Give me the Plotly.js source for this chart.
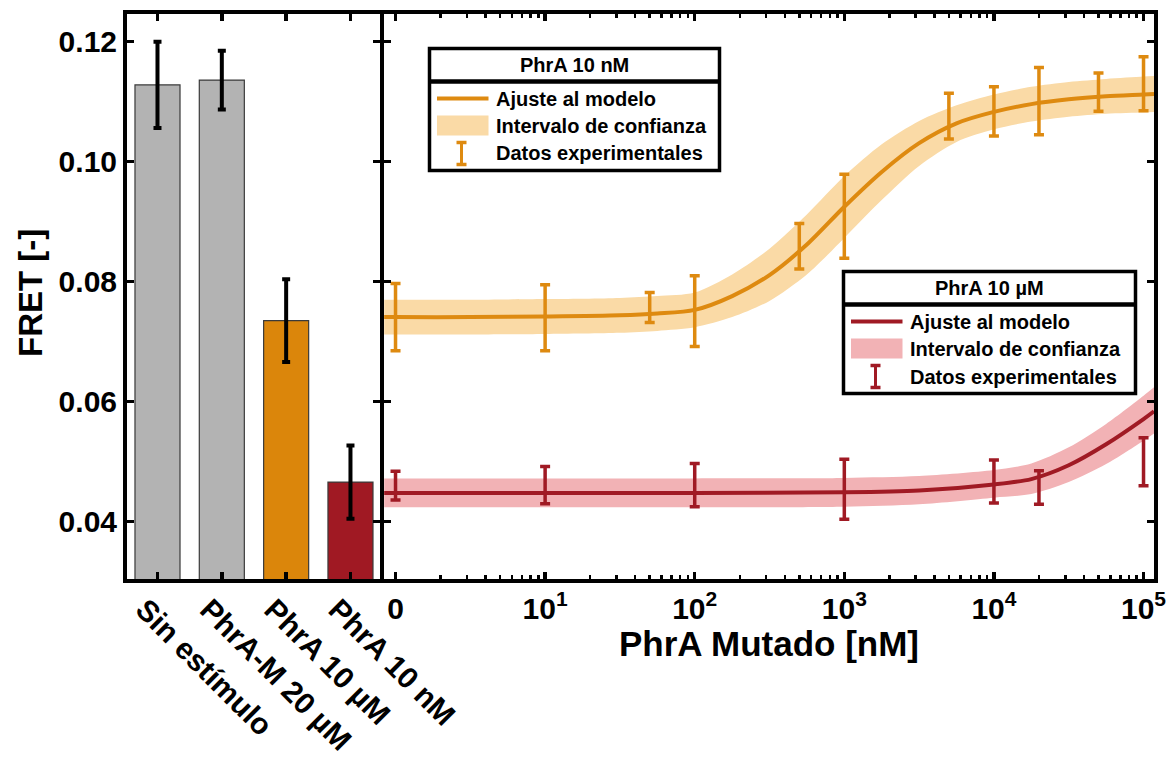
<!DOCTYPE html>
<html>
<head>
<meta charset="utf-8">
<script src="https://cdn.plot.ly/plotly-3.0.1.min.js"></script>
<style>
  html, body { margin: 0; padding: 0; background: #ffffff; }
  #chart { width: 1175px; height: 761px; }
</style>
</head>
<body>
<div id="chart"></div>
<script>
// ---- Bar panel: FRET per condition ----
const categories = ['Sin estímulo', 'PhrA-M 20 µM', 'PhrA 10 µM', 'PhrA 10 nM'];
const barValues  = [0.1128, 0.1136, 0.0735, 0.0466];
const barErrors  = [0.0072, 0.0049, 0.0069, 0.0061];
const barColors  = ['#b3b3b3', '#b3b3b3', '#db860b', '#a01923'];

// ---- Dose-response panel: PhrA 10 nM ----
const orangeX   = [1, 10, 50, 100, 500, 1000, 5000, 10000, 20000, 50000, 100000];
const orangeY   = [0.0741, 0.0740, 0.0757, 0.0751, 0.0859, 0.0909, 0.1076, 0.1084, 0.1101, 0.1116, 0.1130];
const orangeErr = [0.0056, 0.0055, 0.0025, 0.0059, 0.0038, 0.0070, 0.0038, 0.0041, 0.0056, 0.0032, 0.0045];

const orangeFitX  = [0.84, 1, 3.16, 10, 31.6, 56.2, 100, 178, 316, 562, 1000, 1778, 3162, 5623, 10000, 17783, 31623, 56234, 100000, 117500];
const orangeFitY  = [0.0741, 0.0741, 0.0741, 0.0742, 0.0744, 0.0747, 0.0753, 0.0776, 0.0811, 0.0862, 0.0925, 0.0983, 0.1031, 0.1064, 0.1083, 0.1096, 0.1104, 0.1109, 0.1112, 0.1113];
const orangeBandHi = [0.0770, 0.0770, 0.0770, 0.0771, 0.0773, 0.0776, 0.0782, 0.0812, 0.0855, 0.0912, 0.0976, 0.1029, 0.1068, 0.1094, 0.1112, 0.1125, 0.1133, 0.1138, 0.1142, 0.1143];
const orangeBandLo = [0.0712, 0.0712, 0.0712, 0.0713, 0.0715, 0.0718, 0.0724, 0.0741, 0.0768, 0.0812, 0.0873, 0.0936, 0.0993, 0.1033, 0.1054, 0.1067, 0.1075, 0.1080, 0.1082, 0.1083];

// ---- Dose-response panel: PhrA 10 µM ----
const redX   = [1, 10, 100, 1000, 10000, 20000, 100000];
const redY   = [0.0460, 0.0461, 0.0461, 0.0454, 0.0467, 0.0457, 0.0500];
const redErr = [0.0024, 0.0031, 0.0036, 0.0050, 0.0036, 0.0028, 0.0040];

const redFitX  = [0.84, 1, 10, 100, 1000, 3162, 10000, 17783, 31623, 56234, 100000, 117500];
const redFitY  = [0.0448, 0.0448, 0.0448, 0.0448, 0.0449, 0.0452, 0.0462, 0.0471, 0.0494, 0.0529, 0.0571, 0.0584];
const redBandHi = [0.0472, 0.0472, 0.0472, 0.0472, 0.0473, 0.0476, 0.0486, 0.0497, 0.0524, 0.0563, 0.0610, 0.0624];
const redBandLo = [0.0424, 0.0424, 0.0424, 0.0424, 0.0425, 0.0429, 0.0440, 0.0446, 0.0466, 0.0496, 0.0535, 0.0547];

// ---- Axis ticks ----
const yTicks = [0.04, 0.06, 0.08, 0.10, 0.12];
const yTickText = ['0.04', '0.06', '0.08', '0.10', '0.12'];
const logTicks = [1, 10, 100, 1000, 10000, 100000];
const logTickText = ['0', '10<sup>1</sup>', '10<sup>2</sup>', '10<sup>3</sup>', '10<sup>4</sup>', '10<sup>5</sup>'];
const logMinor = [];
for (let d = 1; d <= 10000; d *= 10) {
  for (let k = 2; k <= 9; k++) logMinor.push(k * d);
}

// ---- Colours ----
const ORANGE = '#de8a10';
const ORANGE_BAND = 'rgb(250,218,166)';
const RED = '#a01a24';
const RED_BAND = 'rgb(242,178,181)';

// ---- Page geometry (pixels) ----
const W = 1175, H = 761;
const PL = 127, PR = 1154, PT = 14, PB = 579;
const PW = PR - PL, PH = PB - PT;
const px = v => (v - PL) / PW;
const py = v => (PB - v) / PH;
const FONT = 'Liberation Sans, Arial, sans-serif';

const traces = [
  {
    type: 'bar', x: categories, y: barValues, xaxis: 'x', yaxis: 'y',
    width: 0.7,
    marker: { color: barColors, line: { color: '#3a3a3a', width: 1.2 } },
    error_y: { type: 'data', array: barErrors, visible: true, color: '#000000', thickness: 4, width: 4 },
    hoverinfo: 'skip', showlegend: false
  },
  { type: 'scatter', mode: 'lines', x: orangeFitX, y: orangeBandLo, xaxis: 'x2', yaxis: 'y2',
    line: { width: 0, shape: 'spline', smoothing: 0.8 }, hoverinfo: 'skip', showlegend: false },
  { type: 'scatter', mode: 'lines', x: orangeFitX, y: orangeBandHi, xaxis: 'x2', yaxis: 'y2',
    fill: 'tonexty', fillcolor: ORANGE_BAND,
    line: { width: 0, shape: 'spline', smoothing: 0.8 }, hoverinfo: 'skip', showlegend: false },
  { type: 'scatter', mode: 'lines', x: redFitX, y: redBandLo, xaxis: 'x2', yaxis: 'y2',
    line: { width: 0, shape: 'spline', smoothing: 0.8 }, hoverinfo: 'skip', showlegend: false },
  { type: 'scatter', mode: 'lines', x: redFitX, y: redBandHi, xaxis: 'x2', yaxis: 'y2',
    fill: 'tonexty', fillcolor: RED_BAND,
    line: { width: 0, shape: 'spline', smoothing: 0.8 }, hoverinfo: 'skip', showlegend: false },
  { type: 'scatter', mode: 'lines', x: orangeFitX, y: orangeFitY, xaxis: 'x2', yaxis: 'y2',
    line: { color: ORANGE, width: 4, shape: 'spline', smoothing: 0.8 }, hoverinfo: 'skip', showlegend: false },
  { type: 'scatter', mode: 'lines', x: redFitX, y: redFitY, xaxis: 'x2', yaxis: 'y2',
    line: { color: RED, width: 4, shape: 'spline', smoothing: 0.8 }, hoverinfo: 'skip', showlegend: false },
  { type: 'scatter', mode: 'markers', x: orangeX, y: orangeY, xaxis: 'x2', yaxis: 'y2',
    marker: { size: 2, color: 'rgba(0,0,0,0)' },
    error_y: { type: 'data', array: orangeErr, visible: true, color: ORANGE, thickness: 3.5, width: 5 },
    hoverinfo: 'skip', showlegend: false },
  { type: 'scatter', mode: 'markers', x: redX, y: redY, xaxis: 'x2', yaxis: 'y2',
    marker: { size: 2, color: 'rgba(0,0,0,0)' },
    error_y: { type: 'data', array: redErr, visible: true, color: RED, thickness: 3.5, width: 5 },
    hoverinfo: 'skip', showlegend: false }
];

const axisLine = { showline: true, linecolor: '#000000', linewidth: 4, mirror: 'ticks',
  ticks: 'inside', ticklen: 7, tickwidth: 3.5, tickcolor: '#000000', showgrid: false, zeroline: false };
const tickFont = { family: FONT, size: 30, color: '#000000', weight: 'bold' };
const catFont = { family: FONT, size: 30, color: '#000000', weight: 'bold' };
const yRange = [0.03045, 0.12462];

const layout = {
  width: W, height: H,
  margin: { l: PL, r: W - PR, t: PT, b: H - PB, pad: 0 },
  paper_bgcolor: '#ffffff', plot_bgcolor: '#ffffff',
  showlegend: false,
  xaxis: Object.assign({}, axisLine, {
    domain: [0, px(380)], type: 'category', range: [-0.474, 3.459],
    tickangle: 45, tickfont: catFont, ticklabelshift: -13, ticklabelstandoff: -3
  }),
  yaxis: Object.assign({}, axisLine, {
    domain: [0, 1], range: yRange, tickmode: 'array', tickvals: yTicks, ticktext: yTickText,
    tickfont: tickFont
  }),
  xaxis2: Object.assign({}, axisLine, {
    domain: [px(384), 1], anchor: 'y2', type: 'log', range: [-0.077, 5.070],
    tickmode: 'array', tickvals: logTicks, ticktext: logTickText, tickfont: tickFont,
    minor: { tickmode: 'array', tickvals: logMinor, ticks: 'inside', ticklen: 4, tickwidth: 2.5, tickcolor: '#000000', showgrid: false }
  }),
  yaxis2: Object.assign({}, axisLine, {
    domain: [0, 1], anchor: 'x2', range: yRange, tickmode: 'array', tickvals: yTicks,
    showticklabels: false
  }),
  shapes: [],
  annotations: [
    { text: 'PhrA Mutado [nM]', xref: 'paper', yref: 'paper', x: px(769), y: py(643),
      xanchor: 'center', yanchor: 'middle', showarrow: false,
      font: { family: FONT, size: 35, color: '#000000', weight: 'bold' } },
    { text: 'FRET [-]', xref: 'paper', yref: 'paper', x: px(30), y: py(293), textangle: -90,
      xanchor: 'center', yanchor: 'middle', showarrow: false,
      font: { family: FONT, size: 33, color: '#000000', weight: 'bold' } }
  ]
};

// Legend panels drawn as boxed keys with a title row
function addKey(box, title, lineColor, bandColor) {
  const [x0, y0, x1, y1, sep] = box;
  const S = layout.shapes, A = layout.annotations;
  S.push({ type: 'rect', xref: 'paper', yref: 'paper', x0: px(x0), x1: px(x1), y0: py(y0), y1: py(y1),
    fillcolor: '#ffffff', line: { color: '#000000', width: 3.5 } });
  S.push({ type: 'line', xref: 'paper', yref: 'paper', x0: px(x0), x1: px(x1), y0: py(sep), y1: py(sep),
    line: { color: '#000000', width: 4.5 } });
  const tf = { family: FONT, size: 20, color: '#000000', weight: 'bold' };
  A.push({ text: title, xref: 'paper', yref: 'paper', x: px((x0 + x1) / 2), y: py((y0 + sep) / 2),
    xanchor: 'center', yanchor: 'middle', showarrow: false, font: tf });
  const iconL = x0 + 7.5, iconR = x0 + 59, tx = x0 + 64;
  const r1 = sep + 17, r2 = sep + 44, r3 = sep + 72;
  S.push({ type: 'line', xref: 'paper', yref: 'paper', x0: px(iconL), x1: px(iconR), y0: py(r1), y1: py(r1),
    line: { color: lineColor, width: 4 } });
  S.push({ type: 'rect', xref: 'paper', yref: 'paper', x0: px(iconL), x1: px(iconR), y0: py(r2 - 10), y1: py(r2 + 10),
    fillcolor: bandColor, line: { width: 0 } });
  const ex = x0 + 32;
  S.push({ type: 'line', xref: 'paper', yref: 'paper', x0: px(ex), x1: px(ex), y0: py(r3 - 11), y1: py(r3 + 11),
    line: { color: lineColor, width: 3 } });
  S.push({ type: 'line', xref: 'paper', yref: 'paper', x0: px(ex - 5), x1: px(ex + 5), y0: py(r3 - 11), y1: py(r3 - 11),
    line: { color: lineColor, width: 3.5 } });
  S.push({ type: 'line', xref: 'paper', yref: 'paper', x0: px(ex - 5), x1: px(ex + 5), y0: py(r3 + 11), y1: py(r3 + 11),
    line: { color: lineColor, width: 3.5 } });
  const labels = ['Ajuste al modelo', 'Intervalo de confianza', 'Datos experimentales'];
  [r1, r2, r3].forEach((r, i) => {
    A.push({ text: labels[i], xref: 'paper', yref: 'paper', x: px(tx), y: py(r),
      xanchor: 'left', yanchor: 'middle', showarrow: false, font: tf });
  });
}
addKey([429.5, 48.5, 719.5, 170.5, 81.5], 'PhrA 10 nM', ORANGE, ORANGE_BAND);
addKey([843.5, 271.5, 1135.5, 393.5, 304.5], 'PhrA 10 µM', RED, RED_BAND);

Plotly.newPlot('chart', traces, layout, { staticPlot: true, displayModeBar: false });
</script>
</body>
</html>
